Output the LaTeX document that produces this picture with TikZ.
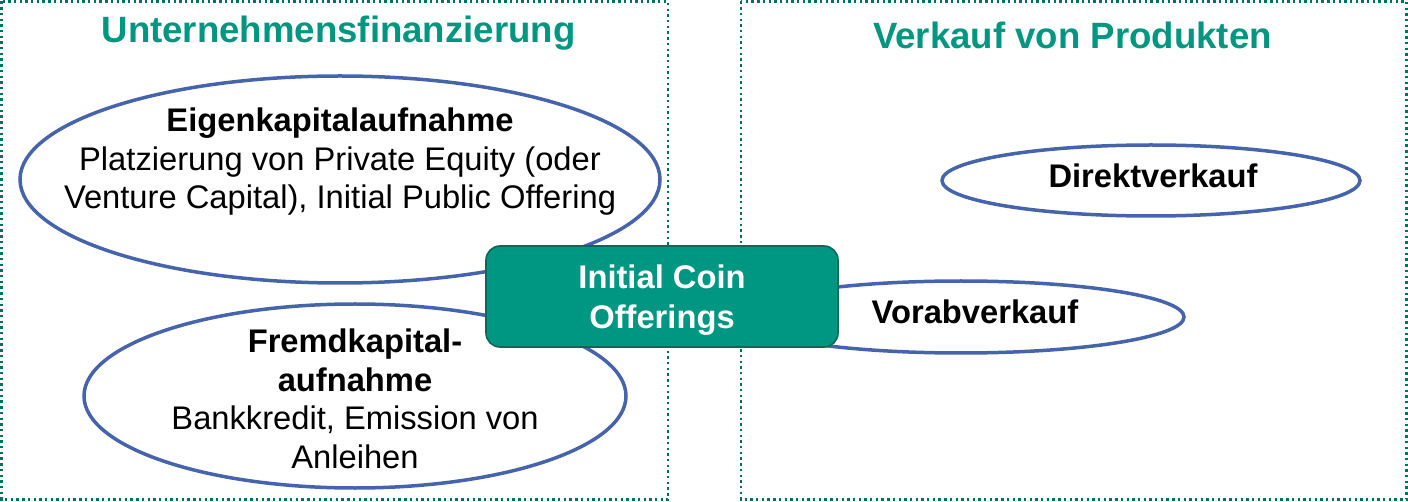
\documentclass[tikz,border=0pt]{standalone}
\usepackage{fontspec}
\setmainfont{Liberation Sans}
\usetikzlibrary{shapes.geometric}
\definecolor{titleteal}{RGB}{0,150,128}
\definecolor{dotteal}{RGB}{0,112,96}
\definecolor{icofill}{RGB}{0,151,130}
\definecolor{icoborder}{RGB}{14,104,88}
\definecolor{ellblue}{RGB}{70,100,172}
\tikzset{
  panel/.style={draw=dotteal, line width=2.5pt, dash pattern=on 2.4pt off 3.3pt},
  titletext/.style={text=titleteal, font=\fontsize{36.6}{42}\selectfont\bfseries, anchor=base, inner sep=0pt},
  oval/.style={ellipse, draw=ellblue, line width=3.5pt, fill=white, inner sep=0pt},
  bodytext/.style={font=\fontsize{32.7}{38.5}\selectfont, align=center, inner sep=0pt},
  icobox/.style={draw=icoborder, line width=1.6pt, fill=icofill, rounded corners=14pt},
  icotext/.style={text=white, font=\fontsize{32.7}{40}\selectfont\bfseries, align=center, inner sep=0pt}
}
\begin{document}
\begin{tikzpicture}[x=1pt,y=-1pt]
\useasboundingbox (0,0) rectangle (1408,502);
% panels
\draw[panel] (1.5,1.5) rectangle (668,499.5);
\draw[panel] (741,1.5) rectangle (1406.5,499.5);
\node[titletext] (t1) at (338.5,43) {Unternehmensfinanzierung};
\node[titletext] (t2) at (1072.5,49) {Verkauf von Produkten};
% ellipses
\node[oval, minimum width=640pt, minimum height=207pt] (ek) at (340,179.5) {};
\node[oval, minimum width=542pt, minimum height=184pt] (fk) at (355,396) {};
\node[oval, minimum width=418pt, minimum height=71pt] (dv) at (1151,180.5) {};
\node[oval, minimum width=446pt, minimum height=72pt] (vv) at (961,317) {};
% texts (anchor base = baseline of last line)
\node[bodytext, anchor=base] (ekt) at (340,209) {\textbf{Eigenkapitalaufnahme}\\Platzierung von Private Equity (oder\\Venture Capital), Initial Public Offering};
\node[bodytext, anchor=base] (fkt) at (355,468) {\textbf{Fremdkapital-}\\\textbf{aufnahme}\\Bankkredit, Emission von\\Anleihen};
\node[bodytext, anchor=base, font=\fontsize{32.7}{38.5}\selectfont\bfseries] (dvt) at (1153,188) {Direktverkauf};
\node[bodytext, anchor=base, font=\fontsize{32.7}{38.5}\selectfont\bfseries] (vvt) at (975,324) {Vorabverkauf};
% ICO box
\path[icobox] (486,246) rectangle (838,347);
\node[icotext, anchor=base] (ico) at (662,329) {Initial Coin\\Offerings};
\end{tikzpicture}
\end{document}
